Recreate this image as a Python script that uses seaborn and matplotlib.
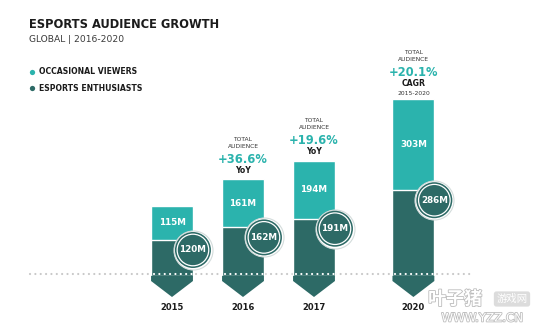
import matplotlib
matplotlib.use("Agg")
import matplotlib.pyplot as plt
import matplotlib.patheffects as pe
import pandas as pd
import seaborn as sns

# --- data -------------------------------------------------------------
years = ["2015", "2016", "2017", "2020"]
occasional = [115, 161, 194, 303]      # occasional viewers, millions
enthusiasts = [120, 162, 191, 286]     # esports enthusiasts, millions
growth = [None, "+36.6%", "+19.6%", "+20.1%"]
growth_basis = [None, "YoY", "YoY", "CAGR"]
growth_period = [None, None, None, "2015-2020"]

title = "ESPORTS AUDIENCE GROWTH"
subtitle = "GLOBAL | 2016-2020"
legend_labels = ["OCCASIONAL VIEWERS", "ESPORTS ENTHUSIASTS"]

# --- style ------------------------------------------------------------
TEAL = "#2bb3ad"
DARK = "#2d6a66"
INK = "#1b1b1b"
sns.set_theme(style="white")
plt.rcParams["font.family"] = ["DejaVu Sans"]

W, H, DPI = 540, 334, 100
PX_PER_M = 0.30          # vertical scale: pixels per million viewers
BASE_PX = 276            # baseline position from the top
SLOT_PX = 71             # spacing between neighbouring years
FIRST_PX = 172           # centre of the first bar
slots = [0, 1, 2, 3.4]   # horizontal slots (2018-2019 skipped)

fig = plt.figure(figsize=(W / DPI, H / DPI), dpi=DPI)
fig.patch.set_facecolor("white")
ax = fig.add_axes([0, 0, 1, 1])

df = pd.DataFrame({
    "slot": slots,
    "year": years,
    "occasional": occasional,
    "enthusiasts": enthusiasts,
})
df["total"] = df["occasional"] + df["enthusiasts"]

# stacked bars: full total in teal, enthusiasts on top in dark teal
sns.barplot(data=df, x="slot", y="total", native_scale=True, width=0.59,
            color=TEAL, saturation=1, errorbar=None, ax=ax, zorder=2)
n0 = len(ax.patches)
sns.barplot(data=df, x="slot", y="enthusiasts", native_scale=True, width=0.59,
            color=DARK, saturation=1, errorbar=None, ax=ax, zorder=3)
dark_bars = ax.patches[n0:]

ax.set_xlim(-FIRST_PX / SLOT_PX, (W - FIRST_PX) / SLOT_PX)
ax.set_ylim(-(H - BASE_PX) / PX_PER_M, BASE_PX / PX_PER_M)
ax.axis("off")

def px(v):
    return v / PX_PER_M

# chevron tails under each bar
for bar in dark_bars:
    x0 = bar.get_x()
    x1 = x0 + bar.get_width()
    xm = (x0 + x1) / 2
    ax.fill([x0, x1, x1, xm, x0], [0.5, 0.5, -px(5), -px(21), -px(5)],
            color=DARK, lw=0, zorder=3)

# dotted baseline: grey on the page, white across the bars
x_left = (30 - FIRST_PX) / SLOT_PX
x_right = (470 - FIRST_PX) / SLOT_PX
dot_y = px(2)
ax.plot([x_left, x_right], [dot_y, dot_y], color="#c8c8c8", lw=1.6,
        linestyle=(0, (0.01, 2.4)), dash_capstyle="round", zorder=1)
for bar in dark_bars:
    x0 = bar.get_x()
    x1 = x0 + bar.get_width()
    ax.plot([x0 + 0.04, x1 - 0.02], [dot_y, dot_y], color="white", lw=1.6,
            linestyle=(0, (0.01, 2.4)), dash_capstyle="round", zorder=4)

# value labels
for i, bar in enumerate(dark_bars):
    xc = bar.get_x() + bar.get_width() / 2
    xr = bar.get_x() + bar.get_width()
    top_dark = enthusiasts[i]
    mid_teal = enthusiasts[i] + occasional[i] / 2
    ax.text(xc, mid_teal, f"{occasional[i]}M", color="white", fontsize=6.3,
            fontweight="bold", ha="center", va="center", zorder=5)
    cy = top_dark - px(10)
    # badge: light outer ring, dark disc, thin white inner ring
    ax.scatter([xr], [cy], s=(2 * 19.5 * 0.72) ** 2, facecolor="white",
               edgecolor="#d3dcdb", linewidth=0.8, zorder=6)
    ax.scatter([xr], [cy], s=(2 * 18 * 0.72) ** 2, facecolor=DARK,
               edgecolor="none", zorder=7)
    ax.scatter([xr], [cy], s=(2 * 15.8 * 0.72) ** 2, facecolor="none",
               edgecolor="white", linewidth=0.9, zorder=8)
    ax.text(xr, cy, f"{enthusiasts[i]}M", color="white", fontsize=6.3,
            fontweight="bold", ha="center", va="center", zorder=9)
    # year below the chevron
    ax.text(xc, -px(31), years[i], color=INK, fontsize=6, fontweight="bold",
            ha="center", va="center")

    # growth annotations above the bar
    if growth[i] is None:
        continue
    top = enthusiasts[i] + occasional[i]
    has_period = growth_period[i] is not None
    lift = 7 if has_period else 0
    def note(text, dy, **kw):
        ax.annotate(text, (xc, top), xytext=(0, dy), textcoords="offset pixels",
                    ha="center", va="center", **kw)
    note("TOTAL", 40 + lift, fontsize=4.3, color="#333333")
    note("AUDIENCE", 33 + lift, fontsize=4.3, color="#333333")
    note(growth[i], 20 + lift, fontsize=8.3, color=TEAL, fontweight="bold")
    note(growth_basis[i], 8.5 + lift, fontsize=5.6, color=INK, fontweight="bold")
    if has_period:
        note(growth_period[i], 6, fontsize=4.3, color="#333333")

# title block and legend
fig.text(29 / W, 1 - 24 / H, title, fontsize=8.3, fontweight="bold",
         color=INK, ha="left", va="center")
fig.text(29 / W, 1 - 40 / H, subtitle, fontsize=6.6, color="#3a3a3a",
         ha="left", va="center")
for j, (lab, col) in enumerate(zip(legend_labels, [TEAL, DARK])):
    yy = 1 - (72 + 16 * j) / H
    fig.text(39 / W, yy, lab, fontsize=5.6, fontweight="bold", color=INK,
             ha="left", va="center")
    ax.plot([31.5 / W], [yy], marker="o", markersize=3.8, color=col,
            markeredgewidth=0, transform=fig.transFigure, clip_on=False)

# site mark in the corner
halo = [pe.withStroke(linewidth=1.2, foreground="#bdbdbd")]
fig.text(455 / W, 1 - 299 / H, "叶子猪", fontsize=13, fontweight="bold",
         color="white", ha="center", va="center",
         family=["Noto Sans CJK SC", "DejaVu Sans"], path_effects=halo)
fig.text(512 / W, 1 - 299 / H, "游戏网", fontsize=7.5, color="white",
         ha="center", va="center", family=["Noto Sans CJK SC", "DejaVu Sans"],
         bbox=dict(boxstyle="round,pad=0.25", fc="#dcdcdc", ec="none"))
fig.text(482 / W, 1 - 318 / H, "WWW.YZZ.CN", fontsize=8.5, color="white",
         ha="center", va="center", path_effects=halo)

fig.savefig("out.png", dpi=DPI)
